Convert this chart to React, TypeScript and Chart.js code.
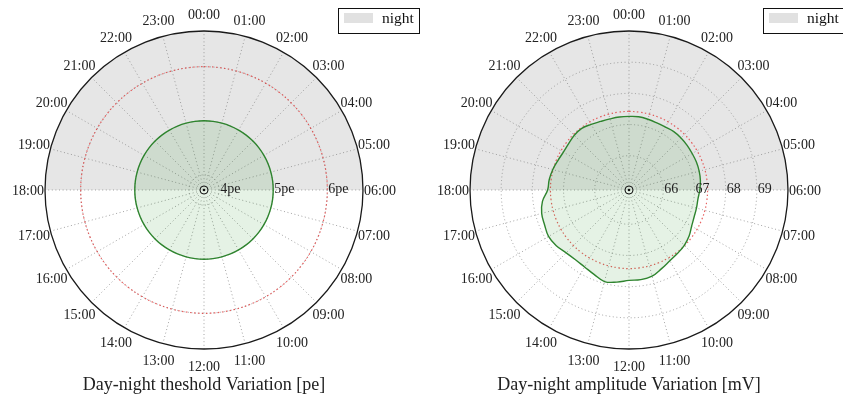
import React, { useEffect, useRef } from 'react';
import { Chart, registerables } from 'chart.js';

Chart.register(...registerables);

// ---------- data ----------
const timeLabels = [
  '00:00', '00:30', '01:00', '01:30', '02:00', '02:30', '03:00', '03:30',
  '04:00', '04:30', '05:00', '05:30', '06:00', '06:30', '07:00', '07:30',
  '08:00', '08:30', '09:00', '09:30', '10:00', '10:30', '11:00', '11:30',
  '12:00', '12:30', '13:00', '13:30', '14:00', '14:30', '15:00', '15:30',
  '16:00', '16:30', '17:00', '17:30', '18:00', '18:30', '19:00', '19:30',
  '20:00', '20:30', '21:00', '21:30', '22:00', '22:30', '23:00', '23:30',
];

const thresholdPe = [
  5, 5, 5, 5, 5, 5, 5, 5, 5, 5, 5, 5, 5, 5, 5, 5, 5, 5, 5, 5, 5, 5, 5, 5,
  5, 5, 5, 5, 5, 5, 5, 5, 5, 5, 5, 5, 5, 5, 5, 5, 5, 5, 5, 5, 5, 5, 5, 5,
];
const thresholdRefPe = [
  6, 6, 6, 6, 6, 6, 6, 6, 6, 6, 6, 6, 6, 6, 6, 6, 6, 6, 6, 6, 6, 6, 6, 6,
  6, 6, 6, 6, 6, 6, 6, 6, 6, 6, 6, 6, 6, 6, 6, 6, 6, 6, 6, 6, 6, 6, 6, 6,
];
const thresholdTicks = [4, 5, 6];
const thresholdTickLabels = ['4pe', '5pe', '6pe'];
const thresholdMin = 3.72;
const thresholdMax = 6.66;

const amplitudeMv = [
  67.26, 67.27, 67.25, 67.23, 67.23, 67.26, 67.26, 67.25,
  67.24, 67.24, 67.23, 67.21, 67.17, 67.13, 67.14, 67.16,
  67.22, 67.33, 67.41, 67.46, 67.52, 67.63, 67.76, 67.80,
  67.80, 67.88, 67.94, 67.83, 67.75, 67.72, 67.75, 67.84,
  67.88, 67.83, 67.80, 67.70, 67.51, 67.48, 67.43, 67.37,
  67.33, 67.34, 67.38, 67.39, 67.33, 67.28, 67.26, 67.26,
];
const amplitudeRefMv = [
  67.42, 67.42, 67.42, 67.42, 67.42, 67.42, 67.42, 67.42,
  67.42, 67.42, 67.42, 67.42, 67.42, 67.42, 67.42, 67.42,
  67.42, 67.42, 67.42, 67.42, 67.42, 67.42, 67.42, 67.42,
  67.42, 67.42, 67.42, 67.42, 67.42, 67.42, 67.42, 67.42,
  67.42, 67.42, 67.42, 67.42, 67.42, 67.42, 67.42, 67.42,
  67.42, 67.42, 67.42, 67.42, 67.42, 67.42, 67.42, 67.42,
];
const amplitudeTicks = [66, 67, 68, 69];
const amplitudeTickLabels = ['66', '67', '68', '69'];
const amplitudeMin = 64.9;
const amplitudeMax = 70.0;

const legendLabel = 'night';
const thresholdTitle = 'Day-night theshold Variation [pe]';
const amplitudeTitle = 'Day-night amplitude Variation [mV]';

// ---------- styles ----------
const FONT = '"Liberation Serif", "DejaVu Serif", serif';
const NIGHT = '#e6e6e6';
const GRID = 'rgba(125,125,125,0.7)';
const GREEN_LINE = '#2e842e';
const GREEN_FILL = 'rgba(0,128,0,0.10)';
const RED = 'rgba(225,60,60,0.8)';
const H = 397;

type PanelProps = {
  left: number;
  width: number;
  padLeft: number;
  padRight: number;
  min: number;
  max: number;
  ticks: number[];
  tickLabels: string[];
  values: number[];
  refValues: number[];
  title: string;
  legendX: number;
};

function PolarPanel(p: PanelProps) {
  const ref = useRef<HTMLCanvasElement>(null);

  useEffect(() => {
    const decor = {
      id: 'polarDecor',
      beforeDraw(chart: any) {
        const s = chart.scales.r;
        const ctx = chart.ctx;
        ctx.save();
        ctx.beginPath();
        ctx.moveTo(s.xCenter, s.yCenter);
        ctx.arc(s.xCenter, s.yCenter, s.drawingArea, Math.PI, 2 * Math.PI);
        ctx.closePath();
        ctx.fillStyle = NIGHT;
        ctx.fill();
        ctx.restore();
      },
      afterDraw(chart: any) {
        const s = chart.scales.r;
        const ctx = chart.ctx;
        const cx = s.xCenter;
        const cy = s.yCenter;
        ctx.save();
        // outer frame
        ctx.beginPath();
        ctx.arc(cx, cy, s.drawingArea, 0, 2 * Math.PI);
        ctx.strokeStyle = '#1a1a1a';
        ctx.lineWidth = 1.3;
        ctx.stroke();
        // centre marker
        ctx.beginPath();
        ctx.arc(cx, cy, 4, 0, 2 * Math.PI);
        ctx.lineWidth = 1;
        ctx.strokeStyle = '#222';
        ctx.stroke();
        ctx.beginPath();
        ctx.arc(cx, cy, 1.3, 0, 2 * Math.PI);
        ctx.fillStyle = '#111';
        ctx.fill();
        // hour labels
        ctx.fillStyle = '#222';
        ctx.font = `14px ${FONT}`;
        ctx.textAlign = 'center';
        ctx.textBaseline = 'middle';
        timeLabels.forEach((lab, i) => {
          if (i % 2 !== 0) return;
          const pt = s.getPointPosition(i, s.drawingArea + 17);
          ctx.fillText(lab, pt.x, pt.y + 1);
        });
        // radial tick labels along 06:00 direction
        ctx.textAlign = 'left';
        ctx.textBaseline = 'alphabetic';
        p.ticks.forEach((v, k) => {
          const pt = s.getPointPositionForValue(12, v);
          ctx.fillText(p.tickLabels[k], pt.x + 1, pt.y + 3);
        });
        // legend
        ctx.lineWidth = 1;
        ctx.strokeStyle = '#111';
        ctx.fillStyle = '#fff';
        ctx.fillRect(p.legendX + 0.5, 8.5, 81, 25);
        ctx.strokeRect(p.legendX + 0.5, 8.5, 81, 25);
        ctx.fillStyle = '#e1e1e1';
        ctx.fillRect(p.legendX + 6, 13, 29, 10);
        ctx.fillStyle = '#111';
        ctx.font = `15.5px ${FONT}`;
        ctx.fillText(legendLabel, p.legendX + 44, 23);
        // title
        ctx.font = `18px ${FONT}`;
        ctx.textAlign = 'center';
        ctx.fillStyle = '#222';
        ctx.fillText(p.title, cx, 390);
        ctx.restore();
      },
    };

    const chart = new Chart(ref.current as HTMLCanvasElement, {
      type: 'radar',
      data: {
        labels: timeLabels,
        datasets: [
          {
            data: p.values,
            borderColor: GREEN_LINE,
            backgroundColor: GREEN_FILL,
            borderWidth: 1.4,
            fill: 'start',
            tension: 0.4,
            pointRadius: 0,
          },
          {
            data: p.refValues,
            borderColor: RED,
            borderWidth: 1.2,
            borderDash: [1.5, 2.5],
            fill: false,
            tension: 0.4,
            pointRadius: 0,
          },
        ],
      },
      options: {
        responsive: false,
        animation: false,
        devicePixelRatio: 1,
        layout: { padding: { left: p.padLeft, right: p.padRight, top: 31, bottom: 48 } },
        plugins: { legend: { display: false }, tooltip: { enabled: false } },
        scales: {
          r: {
            min: p.min,
            max: p.max,
            startAngle: 0,
            afterBuildTicks: (scale: any) => {
              scale.ticks = [scale.min, ...p.ticks].map((v: number) => ({ value: v }));
            },
            ticks: { display: false },
            pointLabels: { display: false },
            grid: { circular: true, color: GRID, lineWidth: 1 },
            border: { dash: [1, 2.6] },
            angleLines: {
              color: (c: any) => (c.index % 2 === 0 ? GRID : 'rgba(0,0,0,0)'),
              lineWidth: (c: any) => (c.index % 2 === 0 ? 1 : 0),
              borderDash: [1, 2.6],
            },
          } as any,
        },
      },
      plugins: [decor],
    } as any);
    return () => chart.destroy();
  }, []);

  return (
    <canvas
      ref={ref}
      width={p.width}
      height={H}
      style={{ position: 'absolute', left: p.left, top: 0, width: p.width, height: H }}
    />
  );
}

export default function App() {
  return (
    <div style={{ position: 'fixed', left: 0, top: 0, width: 843, height: H, background: '#fff', overflow: 'hidden' }}>
      <PolarPanel
        left={0}
        width={421}
        padLeft={45}
        padRight={58}
        min={thresholdMin}
        max={thresholdMax}
        ticks={thresholdTicks}
        tickLabels={thresholdTickLabels}
        values={thresholdPe}
        refValues={thresholdRefPe}
        title={thresholdTitle}
        legendX={338}
      />
      <PolarPanel
        left={421}
        width={422}
        padLeft={49}
        padRight={55}
        min={amplitudeMin}
        max={amplitudeMax}
        ticks={amplitudeTicks}
        tickLabels={amplitudeTickLabels}
        values={amplitudeMv}
        refValues={amplitudeRefMv}
        title={amplitudeTitle}
        legendX={342}
      />
    </div>
  );
}
